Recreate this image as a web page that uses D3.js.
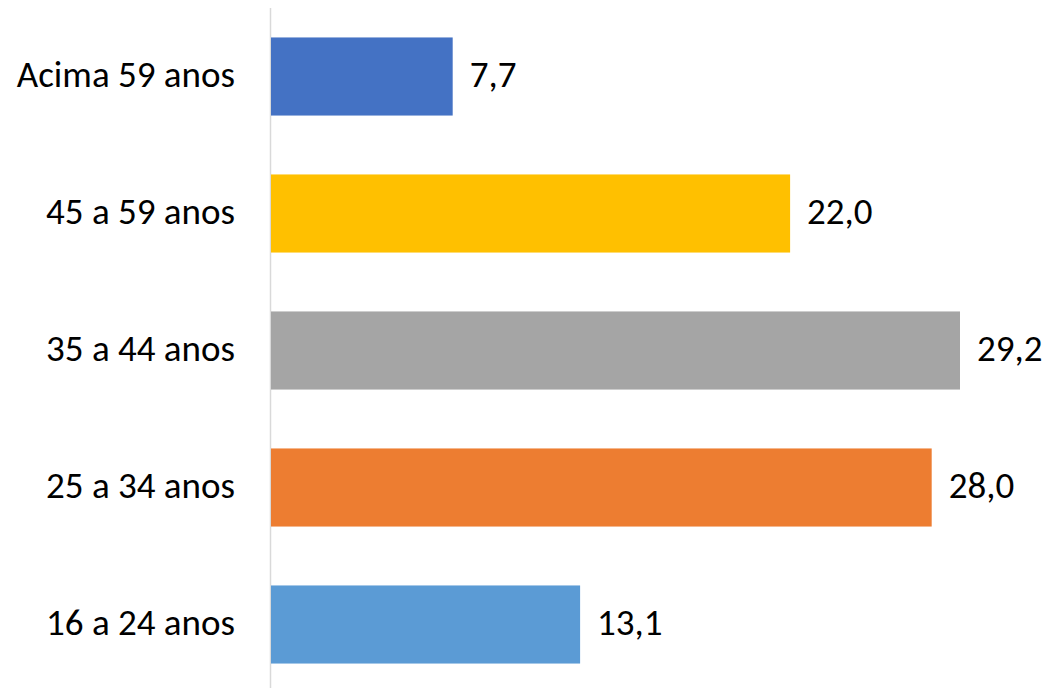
<!DOCTYPE html>
<html><head><meta charset="utf-8">
<script src="https://cdn.jsdelivr.net/npm/d3@7/dist/d3.min.js"></script>
<style>html,body{margin:0;padding:0;background:#fff;}</style>
</head><body>
<svg id="c" width="1054" height="688"></svg>
<script>
const categories = ["Acima 59 anos","45 a 59 anos","35 a 44 anos","25 a 34 anos","16 a 24 anos"];
const values = [7.7, 22.0, 29.2, 28.0, 13.1];
const labels = ["7,7","22,0","29,2","28,0","13,1"];
const colors = ["#4472C4","#FFC000","#A5A5A5","#ED7D31","#5B9BD5"];

const svg = d3.select("#c");
const x0 = 271;
const x = d3.scaleLinear().domain([0, 29.2]).range([x0, 960]);
const y = d3.scaleBand().domain(categories).range([8, 693]).paddingInner(0.43).paddingOuter(0.215);

svg.append("line").attr("x1",270.5).attr("x2",270.5).attr("y1",8).attr("y2",688)
  .attr("stroke","#D9D9D9").attr("stroke-width",1.5);

svg.selectAll("rect.bar").data(values).join("rect")
  .attr("x", x0).attr("y", (d,i)=>y(categories[i]))
  .attr("width", d=>x(d)-x0).attr("height", y.bandwidth())
  .attr("fill", (d,i)=>colors[i]);

const font = "Carlito, Lato, 'Open Sans', sans-serif";
const fs = 37;
svg.selectAll("text.cat").data(categories).join("text")
  .attr("x", 235).attr("y", d=>y(d)+y.bandwidth()/2 + 10)
  .attr("text-anchor","end")
  .attr("font-family", font).attr("font-size", fs).attr("fill","#000")
  .text(d=>d);

svg.selectAll("text.val").data(values).join("text")
  .attr("x", d=>x(d)+17).attr("y", (d,i)=>y(categories[i])+y.bandwidth()/2 + 10)
  .attr("font-family", font).attr("font-size", fs).attr("fill","#000")
  .text((d,i)=>labels[i]);
</script>
</body></html>
